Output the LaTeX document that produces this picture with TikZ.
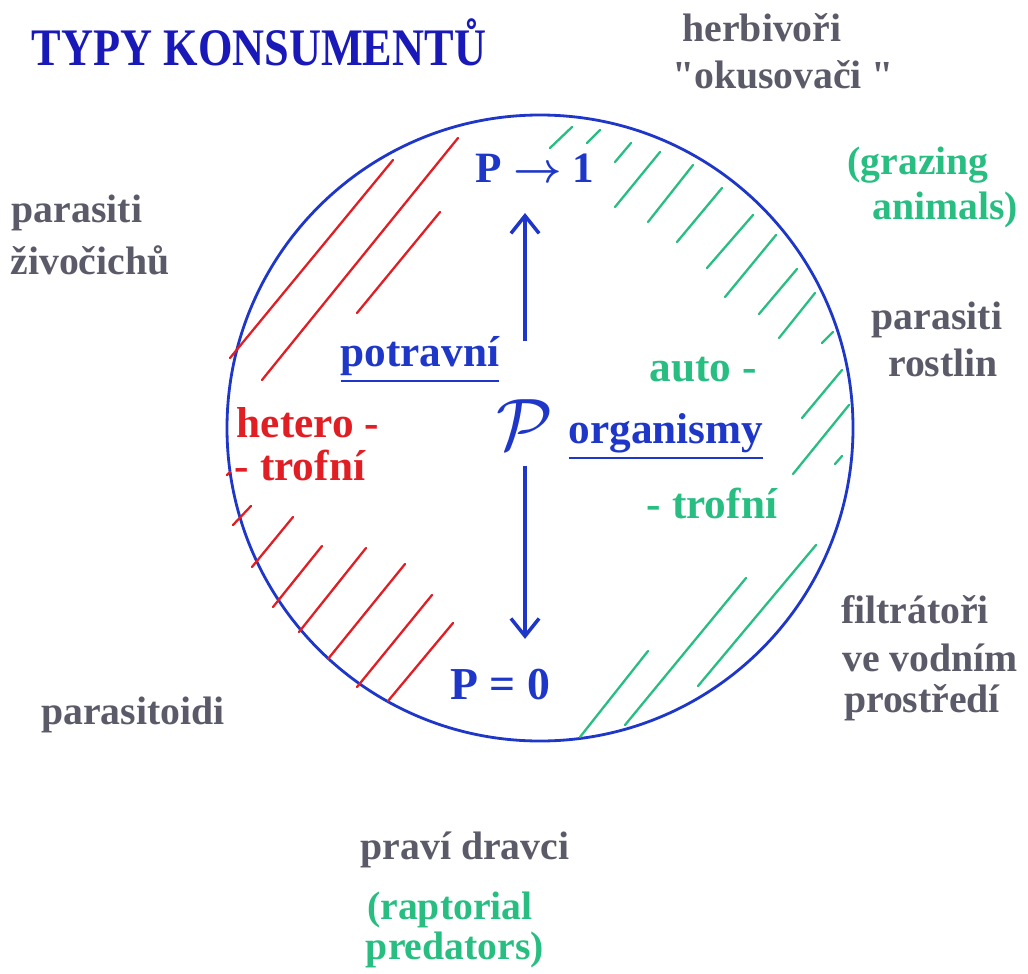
\documentclass[tikz,border=0pt]{standalone}
\usepackage{fontspec}
\setmainfont{Liberation Serif}[Ligatures=TeXOff]
\usepackage{graphicx}
\usepackage{bm}
\usetikzlibrary{arrows.meta}

\definecolor{titleblue}{RGB}{25,25,185}
\definecolor{inkblue}{RGB}{30,55,200}
\definecolor{leafgreen}{RGB}{40,190,130}
\definecolor{hatchred}{RGB}{225,30,35}
\definecolor{labelgray}{RGB}{90,90,105}

\tikzset{
  outlbl/.style={font=\bfseries\fontsize{11.3}{13}\selectfont, text=labelgray, inner sep=0pt},
  englbl/.style={outlbl, text=leafgreen},
  inlbl/.style={font=\bfseries\fontsize{12.3}{14}\selectfont, inner sep=0pt},
  ring/.style={draw=inkblue, line width=0.8pt},
  hatch/.style={line width=0.65pt, line cap=round},
  arr/.style={-{Straight Barb[length=5pt,width=8pt]}, draw=inkblue, line width=1pt},
}

\begin{document}
\begin{tikzpicture}[x=0.01cm, y=-0.01cm]
\useasboundingbox (0,0) rectangle (1028,973);

% Nadpis
\node[inner sep=0pt, text=titleblue, font=\bfseries\fontsize{15}{17}\selectfont]
  (title) at (259,42) {\scalebox{0.84}[1]{TYPY KONSUMENTŮ}};

% Kruh
\draw[ring] (540,428) circle[radius=313];

% Srafovani (cervene)
\foreach \xa/\ya/\xb/\yb in {230/358/393/160, 262/380/458/138, 357/313/440/212,
    227/475/230/472, 233/525/251/506, 252/567/293/517, 273/607/322/546,
    299/632/366/548, 328/659/405/564, 357/687/432/595, 388/701/453/623}
  \draw[hatch, hatchred] (\xa,\ya) -- (\xb,\yb);

% Srafovani (zelene)
\foreach \xa/\ya/\xb/\yb in {550/148/572/127, 587/143/600/130, 615/162/631/143,
    615/207/660/152, 648/222/693/165, 677/242/722/188, 707/268/753/215,
    725/297/776/235, 759/314/797/269, 779/338/815/293, 822/343/833/332,
    802/418/842/370, 793/474/849/405, 835/464/842/456,
    580/737/648/651, 625/725/746/578, 698/686/816/545}
  \draw[hatch, leafgreen] (\xa,\ya) -- (\xb,\yb);

% Uvnitr kruhu
\node[inlbl, text=inkblue] (pone) at (535,168) {P $\bm{\rightarrow}$ 1};
\node[inlbl, text=inkblue, font=\fontsize{20}{20}\selectfont] (scrP) at (525,425) {$\mathcal{P}$};
\node[inlbl, text=inkblue, font=\bfseries\fontsize{13}{15}\selectfont] (pzero) at (500,685) {P = 0};
\node[inlbl, text=inkblue] (potr) at (420,360) {\underline{potravní}};
\node[inlbl, text=inkblue] (org) at (666,437) {\underline{organismy}};
\node[inlbl, text=hatchred] (het) at (308,423) {hetero -};
\node[inlbl, text=hatchred] (hettr) at (300,465) {- trofní};
\node[inlbl, text=leafgreen] (auto) at (703,370) {auto -};
\node[inlbl, text=leafgreen] (autotr) at (712,503) {- trofní};

% Sipky
\draw[arr, shorten <=0.58cm, shorten >=0.3cm] (scrP.north) -- (scrP.north |- pone.south);
\draw[arr, shorten <=0.15cm, shorten >=0.3cm] (scrP.south) -- (scrP.south |- pzero.north);

% Typy konzumentu okolo
\node[outlbl] (herb) at (762,28) {herbivoři};
\node[outlbl] (okus) at (783,75) {"okusovači "};
\node[englbl] (graz) at (918,165) {(grazing};
\node[englbl] (anim) at (945,210) {animals)};
\node[outlbl] (parz) at (77,213) {parasiti};
\node[outlbl] (ziv) at (90,260) {živočichů};
\node[outlbl] (parr) at (937,320) {parasiti};
\node[outlbl] (rost) at (943,363) {rostlin};
\node[outlbl] (filt) at (915,610) {filtrátoři};
\node[outlbl] (vod) at (930,658) {ve vodním};
\node[outlbl] (prost) at (922,703) {prostředí};
\node[outlbl] (ptoid) at (133,715) {parasitoidi};
\node[outlbl] (drav) at (465,850) {praví dravci};
\node[englbl] (rapt) at (450,910) {(raptorial};
\node[englbl] (pred) at (455,950) {predators)};

\end{tikzpicture}
\end{document}
